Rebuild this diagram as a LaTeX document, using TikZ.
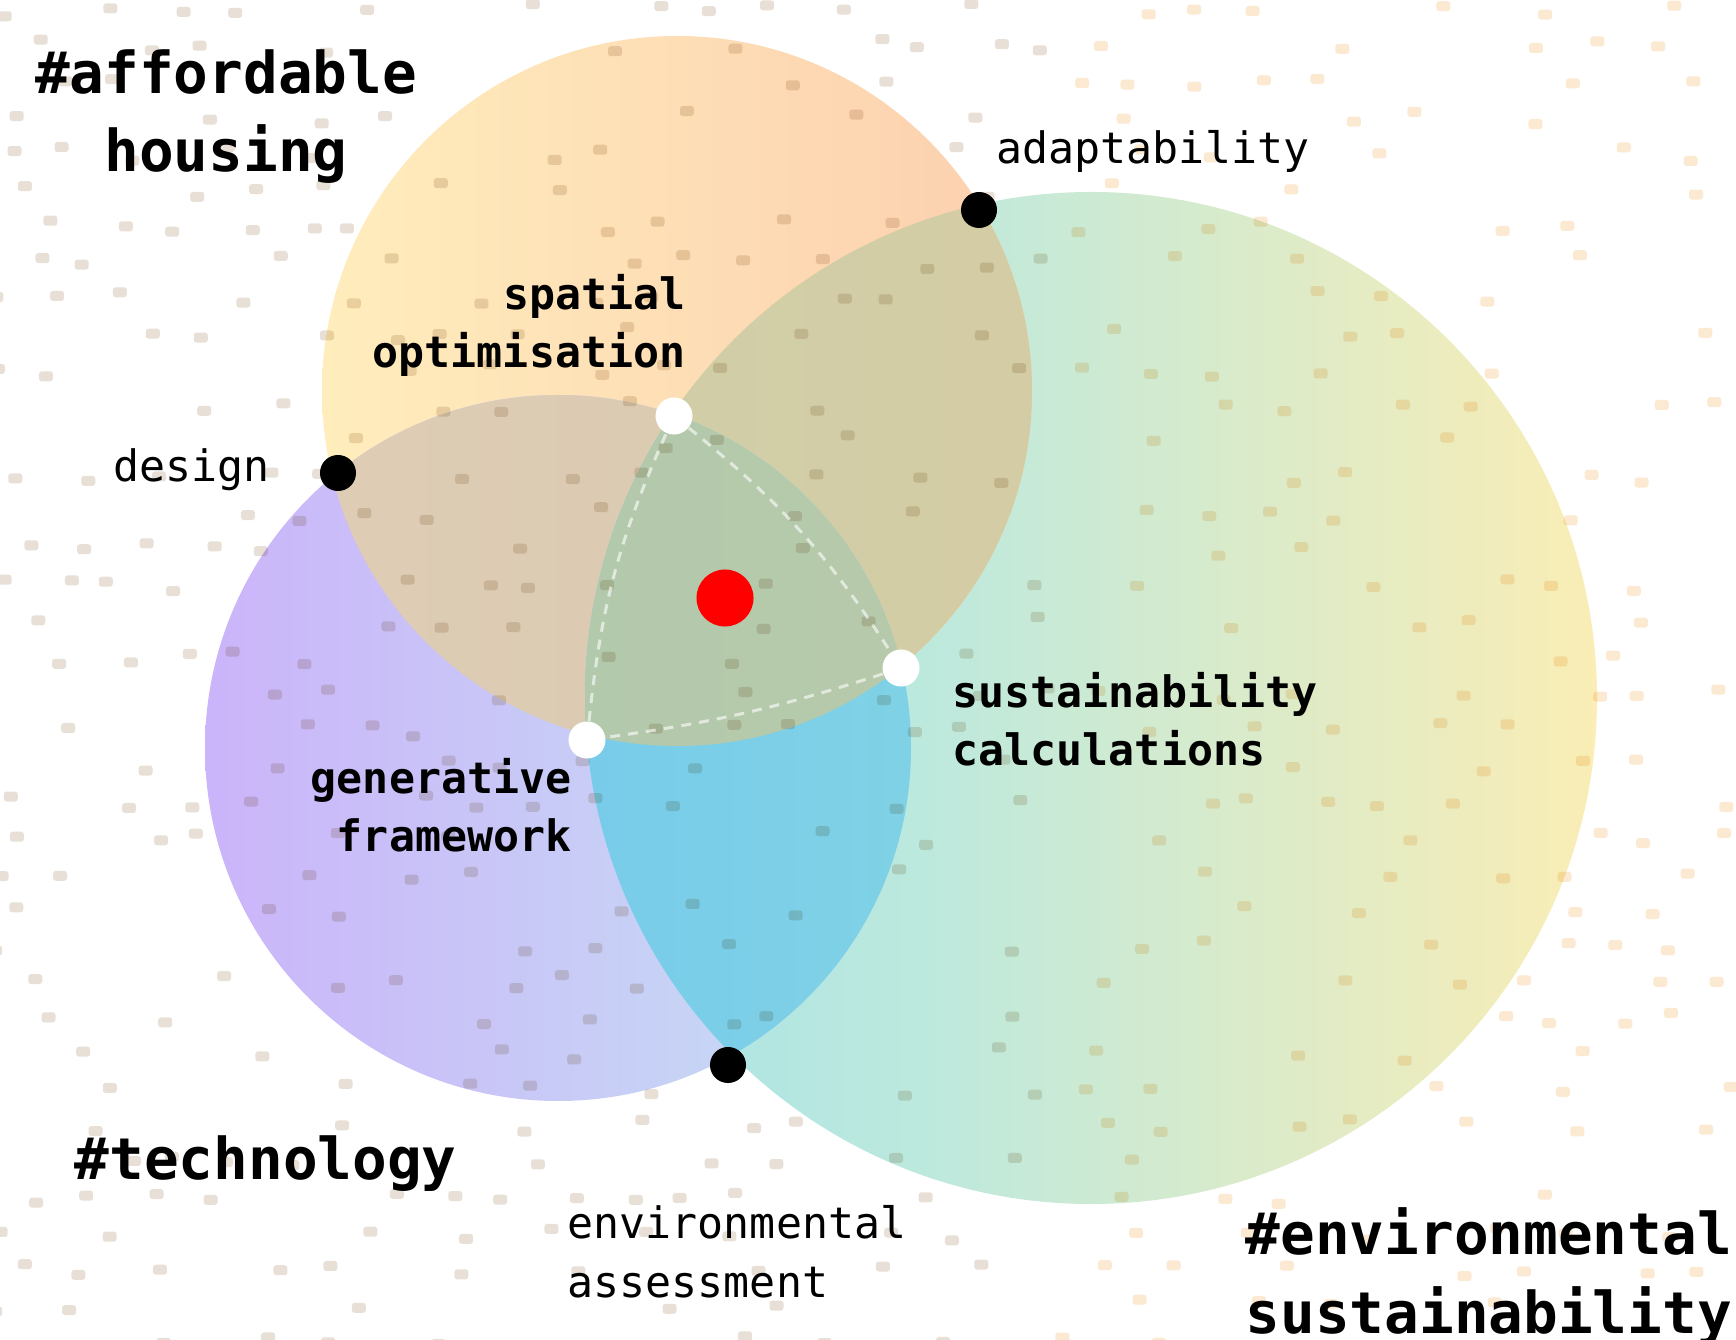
\documentclass[tikz,border=0pt]{standalone}
\usepackage{fontspec}
\setmonofont{DejaVu Sans Mono}
\usetikzlibrary{calc}
\definecolor{aL}{HTML}{FFEDBC}
\definecolor{aR}{HTML}{FCCFAF}
\definecolor{tL}{HTML}{CBB4FA}
\definecolor{tR}{HTML}{C5E1F3}
\definecolor{eL}{HTML}{A8E3E6}
\definecolor{eM}{HTML}{BDE9DD}
\definecolor{eR}{HTML}{FAEDB5}
\definecolor{atL}{HTML}{E0CDB7}
\definecolor{atR}{HTML}{D8CAAE}
\definecolor{aeL}{HTML}{D0CFA8}
\definecolor{aeR}{HTML}{D9C8A0}
\definecolor{teL}{HTML}{78CCEA}
\definecolor{teR}{HTML}{8EDDDA}
\definecolor{coreL}{HTML}{B3C9AC}
\definecolor{coreR}{HTML}{BEC8A7}
\definecolor{dotTan}{HTML}{E8E0D6}
\definecolor{dotPeach}{HTML}{FCE9D2}
\pgfdeclarehorizontalshading{eshade}{100bp}{color(0bp)=(eL); color(25bp)=(eL); color(42bp)=(eM); color(75bp)=(eR); color(100bp)=(eR)}
\tikzset{
  blackdot/.style={circle,fill=black,inner sep=0pt,minimum size=0.36cm},
  whitedot/.style={circle,fill=white,inner sep=0pt,minimum size=0.37cm},
  coredot/.style={circle,fill=red,inner sep=0pt,minimum size=0.57cm},
  dashline/.style={draw=white,draw opacity=0.6,line width=0.03cm,dash pattern=on 0.1cm off 0.08cm},
  headlbl/.style={font=\ttfamily\bfseries\fontsize{16.4}{22.2}\selectfont,inner sep=0pt},
  boldlbl/.style={font=\ttfamily\bfseries\fontsize{12.3}{16.5}\selectfont,inner sep=0pt},
  thinlbl/.style={font=\ttfamily\fontsize{12.3}{16.5}\selectfont,inner sep=0pt},
}
\begin{document}
\begin{tikzpicture}[x=0.01cm,y=-0.01cm]
\useasboundingbox (0,0) rectangle (1736,1340);
\fill[white] (0,0) rectangle (1736,1340);
% circle centres
\coordinate (cA) at (677,391);
\coordinate (cT) at (558,748);
\coordinate (cE) at (1091,698);
\def\rA{355}\def\rT{353}\def\rE{506}
% base circles
\shade[shading=eshade] (cE) circle[radius=\rE];
\shade[left color=aL,right color=aR] (cA) circle[radius=\rA];
\shade[left color=tL,right color=tR] (cT) circle[radius=\rT];
% pairwise overlaps
\begin{scope}
  \clip (cA) circle[radius=\rA];
  \shade[left color=atL,right color=atR] (cT) circle[radius=\rT];
\end{scope}
\begin{scope}
  \clip (cA) circle[radius=\rA];
  \shade[left color=aeL,right color=aeR] (cE) circle[radius=\rE];
\end{scope}
\begin{scope}
  \clip (cT) circle[radius=\rT];
  \shade[left color=teL,right color=teR] (cE) circle[radius=\rE];
\end{scope}
% triple overlap
\begin{scope}
  \clip (cA) circle[radius=\rA];
  \clip (cT) circle[radius=\rT];
  \shade[left color=coreL,right color=coreR] (cE) circle[radius=\rE];
\end{scope}
% speckle texture
\pgfmathsetseed{11}
\begin{scope}[blend mode=multiply]
\foreach \r in {0,...,37}{
  \foreach \c in {0,...,29}{
    \pgfmathsetmacro{\px}{\c*60+mod(\r,2)*30+rnd*30-15}
    \pgfmathsetmacro{\py}{\r*36+10+rnd*14-7}
    \pgfmathsetmacro{\keep}{rnd}
    \ifdim\keep pt<0.42pt
      \ifdim\px pt>1050pt
        \fill[dotPeach,rounded corners=0.8pt] (\px-7,\py-5) rectangle (\px+7,\py+5);
      \else
        \fill[dotTan,rounded corners=0.8pt] (\px-7,\py-5) rectangle (\px+7,\py+5);
      \fi
    \fi
  }
}
\end{scope}
% points
\node[blackdot] (dDesign) at (338,473) {};
\node[blackdot] (dAdapt) at (979,210) {};
\node[blackdot] (dEnv) at (728,1065) {};
\node[whitedot] (wTop) at (674,416) {};
\node[whitedot] (wRight) at (901,668) {};
\node[whitedot] (wLeft) at (587,740) {};
\node[coredot] (core) at (725,598) {};
% dashed triangle
\draw[dashline] (wTop) to[bend left=9] (wRight);
\draw[dashline] (wRight) to[bend left=5] (wLeft);
\draw[dashline] (wLeft) to[bend left=9] (wTop);
% labels (base anchor = baseline of last line)
\node[headlbl,align=center,anchor=base] (lAff) at (226,172) {\#affordable\\housing};
\node[headlbl,anchor=base west] (lTech) at (74,1179) {\#technology};
\node[headlbl,align=left,anchor=base west] (lEnvS) at (1245,1333) {\#environmental\\sustainability};
\node[boldlbl,align=right,anchor=base east] (lSpatial) at (686,368) {spatial\\optimisation};
\node[boldlbl,align=left,anchor=base west] (lSust) at (952,766) {sustainability\\calculations};
\node[boldlbl,align=right,anchor=base east] (lGen) at (572,852) {generative\\framework};
\node[thinlbl,anchor=base west] (lDesign) at (113,482) {design};
\node[thinlbl,anchor=base west] (lAdapt) at (996,164) {adaptability};
\node[thinlbl,align=left,anchor=base west] (lEnvA) at (567,1297) {environmental\\assessment};
\end{tikzpicture}
\end{document}
